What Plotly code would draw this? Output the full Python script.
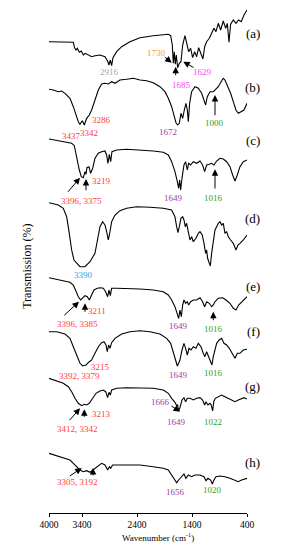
import plotly.graph_objects as go

# ---------------- data: FTIR spectra (wavenumber, relative transmission) ----------------
wn_a = [4000, 3558, 3534, 3510, 3485, 3449, 3413, 3376, 3340, 3285, 3225, 3164, 3073, 2982, 2934, 2910, 2885, 2861, 2837, 2770, 2679, 2528, 2346, 2104, 1831, 1788, 1758, 1740, 1722, 1704, 1685, 1661, 1631, 1601, 1570, 1528, 1492, 1461, 1425, 1388, 1352, 1316, 1279, 1243, 1201, 1170, 1134, 1085, 1043, 1001, 964, 922, 879, 831, 788, 758, 728, 698, 649, 601, 552, 504, 455, 400]
t_a = [28.3, 27.7, 22.3, 20, 21.7, 17.7, 19, 15, 16.7, 15, 13.3, 14.3, 15, 13.3, 9, 5, 10, 4.3, 12.3, 18.3, 23.3, 28.3, 32.3, 34.3, 35.7, 34.3, 25, 6.7, 18.3, 5.7, 15, 2.3, 6.7, 8.3, 25, 34.3, 26.7, 18.3, 21.7, 12.3, 18.3, 13.3, 22.3, 16.7, 11, 23.3, 28.3, 31.7, 36.7, 41.7, 38.3, 46.7, 40, 49, 41.7, 46.7, 27.7, 45.7, 50, 46.7, 50, 48.3, 55, 60]

wn_b = [4000, 3922, 3831, 3770, 3709, 3619, 3558, 3510, 3467, 3437, 3394, 3358, 3316, 3267, 3225, 3164, 3103, 3043, 2982, 2922, 2861, 2800, 2710, 2588, 2467, 2346, 2225, 2104, 1982, 1891, 1831, 1770, 1728, 1691, 1661, 1631, 1601, 1570, 1540, 1510, 1485, 1467, 1443, 1407, 1346, 1285, 1225, 1182, 1152, 1122, 1073, 1013, 964, 922, 861, 831, 801, 770, 740, 698, 649, 601, 558, 498, 455, 400]
t_b = [40.7, 40, 38.3, 39, 36.7, 31.7, 23.3, 15, 8.3, 5.7, 9.3, 5, 11.7, 15, 20, 30, 40, 46, 46.7, 46, 48.3, 46.7, 50, 50.7, 51.7, 50, 49.3, 47.3, 43.3, 38.3, 31.7, 23.3, 15, 7.3, 5, 6.7, 16.7, 11.7, 20, 26.7, 20, 8.3, 26.7, 38.3, 43.3, 41.7, 36.7, 30, 25, 33.3, 38.3, 38.3, 40.7, 43.3, 49.3, 51.7, 50, 46, 43.3, 36.7, 28.3, 20, 16.7, 18.3, 20, 26.7]

wn_c = [4000, 3800, 3588, 3540, 3497, 3449, 3413, 3376, 3346, 3328, 3310, 3273, 3243, 3206, 3164, 3103, 3043, 2982, 2952, 2928, 2903, 2879, 2855, 2770, 2588, 2346, 2104, 1922, 1831, 1770, 1710, 1667, 1643, 1625, 1607, 1582, 1546, 1516, 1485, 1461, 1425, 1376, 1316, 1255, 1207, 1170, 1134, 1085, 1043, 1001, 952, 892, 831, 770, 710, 661, 619, 576, 528, 467, 400]
t_c = [56, 54, 51.7, 49.3, 36.7, 25, 18.3, 17.3, 23.3, 20.7, 27.3, 28.3, 21.7, 26.7, 36.7, 41.7, 43.3, 44, 40, 31.7, 40.7, 33.3, 43.3, 45, 45.7, 45, 44, 42.7, 40, 33.3, 23.3, 13.3, 6.7, 15, 5, 16.7, 30, 33.3, 25, 31.7, 30, 33.3, 31.7, 34, 30, 23.3, 30, 30.7, 31.7, 30, 34, 36.7, 36, 33.3, 28.3, 20, 14, 20, 28.3, 33.3, 35]

wn_d = [4000, 3831, 3740, 3679, 3631, 3588, 3546, 3497, 3437, 3346, 3255, 3164, 3122, 3073, 3025, 2982, 2952, 2922, 2891, 2861, 2800, 2710, 2588, 2407, 2164, 1922, 1770, 1710, 1679, 1655, 1631, 1601, 1570, 1546, 1522, 1498, 1461, 1437, 1407, 1376, 1328, 1285, 1255, 1213, 1182, 1152, 1134, 1116, 1085, 1067, 1043, 1013, 982, 952, 922, 892, 861, 831, 801, 770, 740, 698, 649, 601, 564, 528, 467, 400]
t_d = [67.3, 65, 61.7, 53.3, 36.7, 20, 10, 7, 3.3, 3.3, 8.3, 16.7, 30, 43.3, 48.3, 45, 38.3, 30, 38.3, 48.3, 55, 59.3, 61.7, 63.3, 62.7, 61.7, 60, 53.3, 43.3, 37.3, 43.3, 51.7, 53.3, 50, 43.3, 46.7, 36.7, 30, 33.3, 28.3, 31.7, 36.7, 38.3, 35, 26.7, 16.7, 20, 11.7, 6.7, 4, 16.7, 30, 40, 43.3, 46.7, 48.3, 45, 46.7, 36.7, 38.3, 33.3, 30, 26.7, 20, 25, 26.7, 30, 35]

wn_e = [4000, 3800, 3619, 3558, 3510, 3467, 3425, 3388, 3346, 3303, 3267, 3225, 3182, 3122, 3061, 3013, 2970, 2934, 2910, 2885, 2861, 2770, 2588, 2346, 2104, 1922, 1831, 1770, 1710, 1667, 1643, 1619, 1594, 1570, 1546, 1516, 1485, 1461, 1425, 1376, 1316, 1255, 1207, 1170, 1134, 1085, 1043, 1013, 982, 922, 843, 782, 710, 649, 601, 552, 498, 455, 400]
t_e = [47.3, 45, 42.7, 40, 33.3, 28.3, 25, 26.7, 29.3, 28.3, 25, 30, 35, 36.7, 37.3, 36.7, 33.3, 28.3, 35, 29.3, 36.7, 36.7, 36.7, 36, 35, 33.3, 30, 25, 18.3, 11.7, 6.7, 15, 8.3, 20, 25, 21.7, 23.3, 20, 23.3, 25, 25, 27.3, 23.3, 18.3, 23.3, 21.7, 18.3, 20, 23.3, 26.7, 27.3, 25, 21.7, 16.7, 15, 20, 23.3, 25, 28.3]

wn_f = [4000, 3861, 3709, 3619, 3558, 3497, 3437, 3388, 3328, 3267, 3225, 3164, 3103, 3043, 3000, 2964, 2940, 2916, 2891, 2861, 2800, 2679, 2528, 2346, 2164, 1982, 1861, 1788, 1740, 1698, 1667, 1643, 1619, 1582, 1546, 1516, 1485, 1455, 1419, 1376, 1328, 1285, 1237, 1195, 1164, 1134, 1098, 1061, 1037, 1013, 982, 952, 904, 861, 819, 770, 722, 673, 619, 576, 528, 467, 400]
t_f = [43.3, 43.3, 41, 36.7, 28.3, 20, 11.7, 9, 10, 13.3, 15, 21.7, 28.3, 32.3, 33.3, 30, 23.3, 30, 26.7, 32.3, 36.7, 41, 43.3, 44.3, 43.3, 41, 36.7, 31.7, 21.7, 13.3, 9, 11.7, 15, 25, 31.7, 26.7, 20, 26.7, 25, 28.3, 26.7, 31.7, 28.3, 21.7, 18.3, 23.3, 18.3, 15, 10, 18.3, 26.7, 31.7, 35, 36.7, 31.7, 30, 26.7, 21.7, 16.7, 21.7, 21.7, 25, 25.7]

wn_g = [4000, 3861, 3740, 3649, 3588, 3528, 3467, 3406, 3358, 3316, 3267, 3206, 3146, 3073, 3013, 2970, 2934, 2910, 2885, 2861, 2770, 2588, 2346, 2104, 1922, 1831, 1770, 1722, 1710, 1679, 1661, 1643, 1619, 1582, 1546, 1516, 1485, 1437, 1376, 1316, 1255, 1207, 1170, 1146, 1110, 1073, 1050, 1025, 1005, 976, 922, 861, 801, 740, 679, 619, 558, 498, 455, 400]
t_g = [46.7, 44, 41.7, 38.3, 33.3, 26.7, 21.7, 19.3, 20.7, 20, 21.7, 26.7, 31.7, 34, 35, 33.3, 27.3, 32.7, 30, 35, 36.7, 37.3, 37.3, 36.7, 35, 31.7, 26.7, 23.5, 22.7, 19.3, 20, 14, 17.3, 25, 27.3, 23.3, 26.7, 26.7, 25, 26.7, 27.3, 25, 20, 23.3, 20, 21.7, 20, 14, 23.3, 26.7, 28.3, 30, 28.3, 26.7, 25, 23.3, 25, 26.7, 27.3, 26]

wn_h = [4000, 3861, 3740, 3619, 3558, 3497, 3437, 3376, 3316, 3255, 3206, 3134, 3043, 2982, 2934, 2903, 2879, 2843, 2710, 2588, 2346, 2104, 1922, 1831, 1770, 1710, 1679, 1643, 1588, 1546, 1510, 1467, 1407, 1346, 1255, 1182, 1146, 1110, 1061, 1031, 1001, 964, 892, 801, 710, 619, 558, 498, 455, 400]
t_h = [36.7, 34, 31.7, 30, 26.7, 23.3, 20, 18.3, 19.3, 17.7, 20, 23.3, 26.7, 25, 20, 23.3, 21.7, 25, 25, 25.7, 25, 23.3, 21.7, 20, 15, 10, 7.3, 10, 13.3, 16, 11.7, 15, 13.3, 15, 15, 13.3, 9.3, 11.7, 10, 6, 10, 13.3, 14, 13.3, 11.7, 10, 8.3, 10, 10.7, 11.7]

series_names = ["a", "b", "c", "d", "e", "f", "g", "h"]
series_wn = [wn_a, wn_b, wn_c, wn_d, wn_e, wn_f, wn_g, wn_h]
series_t = [t_a, t_b, t_c, t_d, t_e, t_f, t_g, t_h]
offsets = [443, 383, 318, 243, 188, 138, 88, 23]
label_y = [480, 426, 373, 295, 227, 182, 127, 51]

tick_vals = [4000, 3400, 2400, 1400, 400]
tick_text = ["4000", "3400", "2400", "1400", "400"]

RED = "#ff3b3b"
ORANGE = "#ff9933"
MAGENTA = "#ff44ff"
PURPLE = "#a23ba6"
GREEN = "#2e9e2e"
BLUE = "#3399e6"
GRAY = "#a8a8a8"

# peak labels: (text, wavenumber, y, colour)
peak_labels = [
    ("2916", 2909, 440.7, GRAY),
    ("1730", 2042, 459.7, ORANGE),
    ("1685", 1588, 428, MAGENTA),
    ("1629", 1206, 441.3, MAGENTA),
    ("3286", 3042, 393, RED),
    ("3437", 3587, 377, RED),
    ("3342", 3267, 379.7, RED),
    ("1672", 1831, 381.3, PURPLE),
    ("1000", 982, 389.7, GREEN),
    ("3219", 3042, 332.3, RED),
    ("3396, 3375", 3406, 312.3, RED),
    ("1649", 1740, 314.7, PURPLE),
    ("1016", 1013, 314.7, GREEN),
    ("3390", 3376, 238, BLUE),
    ("3211", 3133, 202, RED),
    ("3396, 3385", 3485, 188.7, RED),
    ("1649", 1649, 187, PURPLE),
    ("1016", 1013, 183.7, GREEN),
    ("3215", 3055, 146.5, RED),
    ("3392, 3379", 3449, 137, RED),
    ("1649", 1649, 138, PURPLE),
    ("1016", 1013, 139.7, GREEN),
    ("1666", 1964, 111.3, PURPLE),
    ("1649", 1678, 91.3, PURPLE),
    ("1022", 1024, 90.7, GREEN),
    ("3213", 3042, 99, RED),
    ("3412, 3342", 3478, 83.7, RED),
    ("3305, 3192", 3478, 31, RED),
    ("1656", 1697, 21.3, PURPLE),
    ("1020", 1024, 23, GREEN),
]

# arrows: (tail wn, tail y, head wn, head y)
arrows = [
    (1922, 457, 1769, 450.3),
    (1697, 436.3, 1697, 446.3),
    (1346, 444.7, 1558, 451.3),
    (982, 396.3, 982, 418),
    (3678, 319.7, 3436, 335.3),
    (3327, 321.3, 3327, 334),
    (982, 323, 982, 343.7),
    (3751, 196.3, 3455, 211.3),
    (3345, 199.7, 3345, 209.7),
    (1013, 191.3, 1013, 201.3),
    (1800, 108, 1618, 101.3),
    (3649, 91.3, 3436, 104.7),
    (3358, 94.7, 3358, 103.7),
    (3649, 36, 3405, 45),
    (3200, 36, 3200, 45),
]

SERIF = "Liberation Serif, Times New Roman, serif"

fig = go.Figure()
for name, wn, t, off in zip(series_names, series_wn, series_t, offsets):
    fig.add_trace(go.Scatter(
        x=wn, y=[off + v for v in t], mode="lines", name=name,
        line=dict(color="black", width=1.1), showlegend=False, hoverinfo="skip"))

annotations = []
for name, ly in zip(series_names, label_y):
    annotations.append(dict(text="(" + name + ")", xref="paper", yref="y", x=1.076, y=ly,
                            showarrow=False, font=dict(family=SERIF, size=13, color="black")))
for txt, x, y, col in peak_labels:
    annotations.append(dict(text=txt, xref="x", yref="y", x=x, y=y, showarrow=False,
                            font=dict(family=SERIF, size=9, color=col)))
for tx, ty, hx, hy in arrows:
    annotations.append(dict(text="", xref="x", yref="y", x=hx, y=hy, axref="x", ayref="y",
                            ax=tx, ay=ty, showarrow=True, arrowhead=2, arrowsize=1.3,
                            arrowwidth=1, arrowcolor="black", standoff=0, startstandoff=0))
annotations.append(dict(text="Wavenumber (cm<sup>-1</sup>)", xref="paper", yref="paper",
                        x=0.55, y=-0.047, yanchor="middle", showarrow=False,
                        font=dict(family=SERIF, size=9, color="black")))
annotations.append(dict(text="Transmission (%)", xref="paper", yref="y", x=-0.16, y=246.5,
                        textangle=-90, showarrow=False,
                        font=dict(family=SERIF, size=12, color="black")))

fig.update_layout(
    width=284, height=550,
    margin=dict(l=49, r=37, t=8, b=37),
    paper_bgcolor="white", plot_bgcolor="white",
    annotations=annotations,
    hovermode=False,
    xaxis=dict(range=[4000, 400], tickvals=tick_vals, ticktext=tick_text,
               showline=True, linecolor="black", linewidth=1, ticks="outside",
               ticklen=3, tickcolor="black", showgrid=False, zeroline=False,
               tickfont=dict(family=SERIF, size=9.5, color="black")),
    yaxis=dict(range=[0, 505], visible=False, showgrid=False, zeroline=False),
)

fig.write_html("out.html", config={"displayModeBar": False},
               post_script="document.body.style.margin='0';document.body.style.padding='0';")
